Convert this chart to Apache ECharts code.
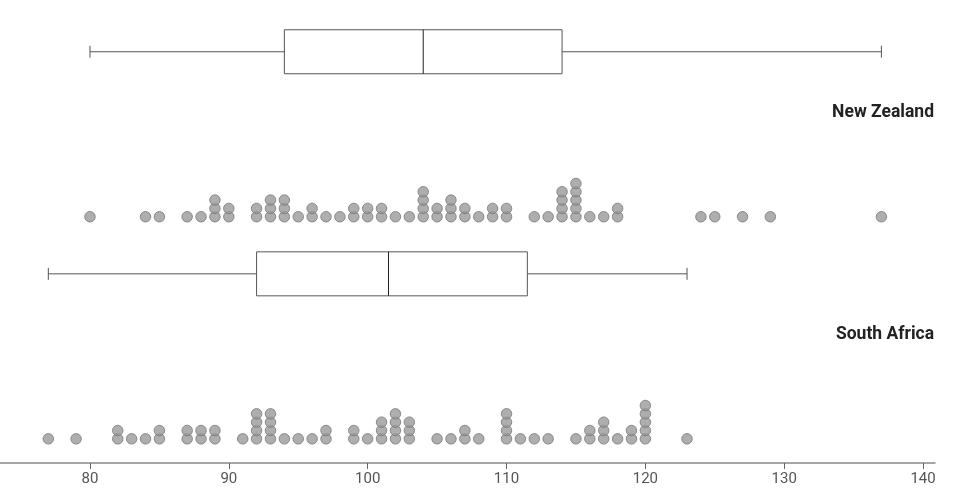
<!DOCTYPE html>
<html>
<head>
<meta charset="utf-8">
<script src="https://cdn.jsdelivr.net/npm/echarts@6/dist/echarts.min.js"></script>
<style>
  html, body { margin: 0; background: #fff; }
  #chart { width: 980px; height: 492px; }
</style>
</head>
<body>
<div id="chart"></div>
<script>
// ==================== data ====================
const countries = ['New Zealand', 'South Africa']
const nzValues = [80, 84, 85, 87, 88, 89, 89, 89, 90, 90, 92, 92, 93, 93, 93, 94, 94, 94, 95, 96, 96, 97, 98,
  99, 99, 100, 100, 101, 101, 102, 103, 104, 104, 104, 104, 105, 105, 106, 106, 106, 107, 107, 108, 109, 109,
  110, 110, 112, 113, 114, 114, 114, 114, 115, 115, 115, 115, 115, 116, 117, 118, 118, 124, 125, 127, 129, 137]
const saValues = [77, 79, 82, 82, 83, 84, 85, 85, 87, 87, 88, 88, 89, 89, 91, 92, 92, 92, 92, 93, 93, 93, 93,
  94, 95, 96, 97, 97, 99, 99, 100, 101, 101, 101, 102, 102, 102, 102, 103, 103, 103, 105, 106, 107, 107, 108,
  110, 110, 110, 110, 111, 112, 113, 115, 116, 116, 117, 117, 117, 118, 119, 119, 120, 120, 120, 120, 120, 123]
// min, q1, median, q3, max
const nzBox = [80, 94, 104, 114, 137]
const saBox = [77, 92, 101.5, 111.5, 123]
const xTicks = [80, 90, 100, 110, 120, 130, 140]

// row layout (in dot-stack units)
const rowBase = [26.65, 0]
const boxOffset = 19.8

// stack equal values upward
function stackDots(values, base) {
  const seen = {}
  return values.map((v) => {
    seen[v] = (seen[v] || 0) + 1
    return [v, base + seen[v] - 1]
  })
}

const dots = [...stackDots(nzValues, rowBase[0]), ...stackDots(saValues, rowBase[1])]
const boxes = [
  [...nzBox, rowBase[0] + boxOffset],
  [...saBox, rowBase[1] + boxOffset],
]

const chart = echarts.init(document.getElementById('chart'))
const stroke = { stroke: '#555', lineWidth: 1 }

chart.setOption({
  animation: false,
  grid: { left: 0, right: 45, top: 0, bottom: 29, outerBoundsMode: 'none' },
  xAxis: {
    type: 'value',
    min: 73.52,
    max: 140.86,
    axisLine: { show: true, onZero: false, lineStyle: { color: '#888', width: 1.5 } },
    axisTick: { show: true, length: 6, lineStyle: { color: '#666' }, customValues: xTicks },
    axisLabel: { customValues: xTicks, color: '#555', fontSize: 15, fontFamily: 'Roboto', margin: 9 },
    splitLine: { show: false },
  },
  yAxis: { type: 'value', min: -2.9, max: 52.66, show: false },
  graphic: countries.map((name, i) => ({
    type: 'text',
    x: 934,
    y: 112.8 + i * 222,
    style: {
      text: name,
      font: 'bold 17.5px Roboto',
      fill: '#222',
      align: 'right',
      verticalAlign: 'middle',
    },
  })),
  series: [
    {
      type: 'custom',
      data: boxes,
      renderItem: (params, api) => {
        const y = api.value(5)
        const [x0, cy] = api.coord([api.value(0), y])
        const x1 = api.coord([api.value(1), y])[0]
        const xm = api.coord([api.value(2), y])[0]
        const x3 = api.coord([api.value(3), y])[0]
        const x4 = api.coord([api.value(4), y])[0]
        const h = 22
        const cap = 6
        return {
          type: 'group',
          children: [
            { type: 'line', shape: { x1: x0, y1: cy, x2: x1, y2: cy }, style: stroke },
            { type: 'line', shape: { x1: x3, y1: cy, x2: x4, y2: cy }, style: stroke },
            { type: 'line', shape: { x1: x0, y1: cy - cap, x2: x0, y2: cy + cap }, style: stroke },
            { type: 'line', shape: { x1: x4, y1: cy - cap, x2: x4, y2: cy + cap }, style: stroke },
            { type: 'rect', shape: { x: x1, y: cy - h, width: x3 - x1, height: 2 * h }, style: { fill: '#fff', ...stroke } },
            { type: 'line', shape: { x1: xm, y1: cy - h, x2: xm, y2: cy + h }, style: { stroke: '#222', lineWidth: 1 } },
          ],
        }
      },
    },
    {
      type: 'scatter',
      data: dots,
      symbolSize: 10.5,
      clip: false,
      itemStyle: { color: '#9a9a9a', borderColor: '#777', borderWidth: 1 },
    },
  ],
})
</script>
</body>
</html>
